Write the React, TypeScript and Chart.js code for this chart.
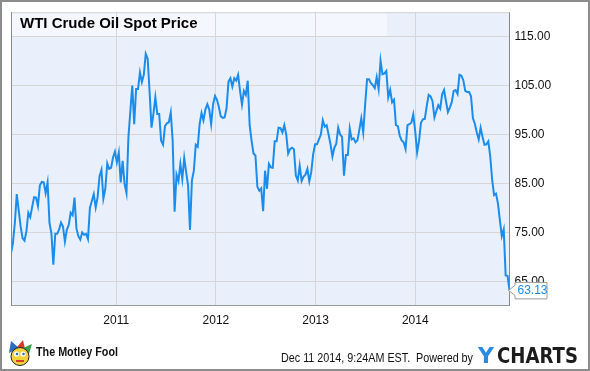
import React, { useEffect, useRef } from "react";
import { Chart, registerables } from "chart.js";

Chart.register(...registerables);

const TITLE = "WTI Crude Oil Spot Price";
const START_YEAR = 2009.945;
const END_YEAR = 2014.945;
const YEAR_TICKS = [2011, 2012, 2013, 2014];
const PRICE_TICKS = [65, 75, 85, 95, 105, 115];
const Y_MIN = 60;
const Y_MAX = 120;
const LAST_LABEL = "63.13";
const FOOTER_DATE = "Dec 11 2014, 9:24AM EST.  Powered by";
const BRAND = "The Motley Fool";

const prices2010 = [
  70.7, 72.8, 76.9, 82.8, 79.5, 76.2, 73.8, 73.3, 75.2, 79.0, 78.1, 80.2, 82.2, 82.1, 80.4, 84.6, 85.3, 85.2, 83.0, 85.2,
  76.9, 74.8, 68.4, 74.7, 74.7, 75.6, 77.0, 76.2, 73.1, 75.5, 76.5, 79.0, 78.5, 82.1, 75.8, 74.2, 73.5, 75.0, 74.5, 74.7,
  73.6, 80.0, 81.4, 82.8, 80.1, 82.2, 86.5, 87.8, 81.9, 83.9, 89.1, 88.0, 88.2, 90.3,
];
const prices2011 = [
  91.5, 89.3, 91.3, 85.2, 89.6, 84.9, 83.0, 94.4, 99.7, 105.0, 97.1, 104.3, 104.3, 107.7, 105.7, 107.2, 111.5, 110.5,
  103.8, 96.4, 99.2, 102.6, 99.2, 99.2, 93.7, 92.9, 96.7, 97.3, 97.5, 99.5, 93.7, 79.2, 86.8, 85.5, 89.0, 85.9, 90.2,
  87.3, 84.6, 75.5, 85.6, 87.6, 92.9, 92.5, 97.1, 99.4, 97.9, 100.1, 101.2, 100.1, 97.1, 101.2,
];
const prices2012 = [
  102.9, 102.1, 100.6, 98.7, 98.4, 98.5, 100.4, 105.8, 106.5, 104.8, 106.5, 106.0, 107.2, 103.9, 101.1, 103.9, 103.1,
  106.0, 96.9, 93.7, 91.1, 90.7, 84.3, 83.5, 84.0, 79.3, 87.6, 83.9, 89.0, 88.3, 88.2, 93.6, 93.6, 96.4, 96.3, 95.4, 96.9,
  95.0, 91.1, 92.0, 92.3, 92.0, 86.6, 85.6, 88.6, 85.5, 86.4, 86.8, 88.0, 85.4, 87.3,
];
const prices2013 = [
  91.0, 93.0, 93.0, 94.0, 95.0, 97.9, 96.6, 96.9, 95.0, 93.0, 90.5, 92.3, 93.1, 96.4, 95.0, 94.5, 86.6, 90.8, 90.8, 96.2,
  94.0, 94.2, 93.4, 93.8, 96.0, 98.3, 95.4, 101.1, 106.3, 106.3, 105.5, 105.1, 104.5, 106.7, 104.3, 110.1, 107.3, 107.5,
  108.0, 102.6, 104.1, 101.6, 102.1, 96.9, 96.7, 94.7, 93.8, 93.4, 92.0, 96.9, 97.1, 97.4,
];
const prices2014 = [
  99.1, 95.7, 91.3, 93.7, 97.4, 98.1, 98.2, 100.8, 103.1, 102.8, 101.8, 98.5, 99.8, 101.0, 100.3, 103.2, 104.1, 101.8,
  99.6, 100.5, 101.6, 103.9, 104.1, 103.3, 107.2, 107.0, 106.1, 103.9, 103.7, 103.7, 102.8, 98.3, 97.2, 95.4, 94.0, 96.4,
  94.5, 92.9, 93.0, 93.6, 90.5, 85.7, 82.6, 82.9, 80.9, 77.5, 74.2, 75.6, 66.2, 66.1, 63.13,
];

const prices = [...prices2010, ...prices2011, ...prices2012, ...prices2013, ...prices2014];

const W = 590;
const H = 371;
const PLOT_BG = "#eaf0fb";
const BAND_BG = "#f4f7fd";
const GRID = "#d6d6d6";
const LINE = "#1a8cec";
const FONT = "'Liberation Sans', Arial, sans-serif";

const decor = {
  id: "decor",
  beforeDraw(chart: any) {
    const { ctx, chartArea: a } = chart;
    ctx.save();
    ctx.fillStyle = "#ffffff";
    ctx.fillRect(0, 0, W, H);
    ctx.fillStyle = PLOT_BG;
    ctx.fillRect(a.left, a.top, a.right - a.left, a.bottom - a.top);
    const yBand = chart.scales.y.getPixelForValue(PRICE_TICKS[PRICE_TICKS.length - 1]);
    ctx.fillStyle = BAND_BG;
    ctx.fillRect(a.left, a.top, 387 - a.left, yBand - a.top);
    ctx.restore();
  },
  afterDraw(chart: any) {
    const { ctx, chartArea: a } = chart;
    ctx.save();
    // title
    ctx.fillStyle = "#000";
    ctx.font = `bold 15px ${FONT}`;
    ctx.textBaseline = "middle";
    ctx.textAlign = "left";
    ctx.fillText(TITLE, 20, 24);
    // plot borders
    ctx.lineWidth = 1;
    ctx.strokeStyle = "#d0d0d0";
    ctx.beginPath();
    ctx.moveTo(a.left, a.top + 0.5);
    ctx.lineTo(a.right, a.top + 0.5);
    ctx.stroke();
    ctx.strokeStyle = "#8a8a8a";
    ctx.beginPath();
    ctx.moveTo(a.left + 0.5, a.top);
    ctx.lineTo(a.left + 0.5, a.bottom);
    ctx.stroke();
    // last value label
    const meta = chart.getDatasetMeta(0);
    const last = meta.data[meta.data.length - 1];
    if (last) {
      const px = last.x;
      const py = last.y;
      const bx = px + 5;
      const bw = 32.5;
      const bh = 17;
      const by = py - bh / 2;
      ctx.fillStyle = "#fff";
      ctx.strokeStyle = "#9a9a9a";
      ctx.beginPath();
      ctx.moveTo(bx + 0.5, by + 0.5);
      ctx.lineTo(bx + bw, by + 0.5);
      ctx.lineTo(bx + bw, by + bh);
      ctx.lineTo(bx + 0.5, by + bh);
      ctx.lineTo(bx + 0.5, py + 5);
      ctx.lineTo(px - 1, py);
      ctx.lineTo(bx + 0.5, py - 5);
      ctx.closePath();
      ctx.fill();
      ctx.stroke();
      ctx.fillStyle = LINE;
      ctx.font = `12px ${FONT}`;
      ctx.textBaseline = "middle";
      ctx.fillText(LAST_LABEL, bx + 3, py + 0.5);
    }
    // Motley Fool icon
    const ix = 8, iy = 340;
    ctx.fillStyle = "#2b6cc4";
    ctx.beginPath();
    ctx.moveTo(ix + 1, iy + 13);
    ctx.lineTo(ix + 3, iy + 1);
    ctx.lineTo(ix + 11, iy + 8);
    ctx.closePath();
    ctx.fill();
    ctx.fillStyle = "#d93a2b";
    ctx.beginPath();
    ctx.moveTo(ix + 9, iy + 7);
    ctx.lineTo(ix + 15, iy + 0);
    ctx.lineTo(ix + 17, iy + 9);
    ctx.closePath();
    ctx.fill();
    ctx.fillStyle = "#3aa04a";
    ctx.beginPath();
    ctx.moveTo(ix + 15, iy + 8);
    ctx.lineTo(ix + 24, iy + 4);
    ctx.lineTo(ix + 21, iy + 14);
    ctx.closePath();
    ctx.fill();
    ctx.fillStyle = "#f4d23c";
    ctx.beginPath();
    ctx.ellipse(ix + 12, iy + 16.5, 9, 9, 0, 0, Math.PI * 2);
    ctx.fill();
    ctx.strokeStyle = "#222";
    ctx.lineWidth = 1;
    ctx.stroke();
    ctx.fillStyle = "#ffffff";
    ctx.beginPath();
    ctx.arc(ix + 8.5, iy + 14, 2.6, 0, Math.PI * 2);
    ctx.arc(ix + 15, iy + 14, 2.6, 0, Math.PI * 2);
    ctx.fill();
    ctx.fillStyle = "#2b6cc4";
    ctx.beginPath();
    ctx.arc(ix + 9, iy + 14, 1.3, 0, Math.PI * 2);
    ctx.arc(ix + 15.5, iy + 14, 1.3, 0, Math.PI * 2);
    ctx.fill();
    ctx.fillStyle = "#d93a2b";
    ctx.fillRect(ix + 8, iy + 20, 8, 2);
    // brand text
    ctx.fillStyle = "#111";
    ctx.font = `bold 13px 'Liberation Sans Narrow', ${FONT}`;
    ctx.textBaseline = "middle";
    ctx.fillText(BRAND, 36, 352, 82);
    // footer date
    ctx.fillStyle = "#111";
    ctx.font = `12px ${FONT}`;
    ctx.fillText(FOOTER_DATE, 281, 359, 192);
    // YCHARTS logo
    ctx.font = `bold 22px 'DejaVu Sans', ${FONT}`;
    ctx.fillStyle = "#2a8be0";
    ctx.fillText("Y", 478, 357, 20);
    ctx.fillStyle = "#1c1c1c";
    ctx.fillText("CHARTS", 497, 357, 81);
    // frame
    ctx.strokeStyle = "#8c8c8c";
    ctx.lineWidth = 2;
    ctx.strokeRect(1, 1, W - 2, H - 2);
    ctx.restore();
  },
};

export default function App() {
  const ref = useRef<HTMLCanvasElement>(null);
  useEffect(() => {
    document.body.style.margin = "0";
    const n = prices.length;
    const points = prices.map((v, i) => ({
      x: START_YEAR + ((END_YEAR - START_YEAR) * i) / (n - 1),
      y: v,
    }));
    const chart = new Chart(ref.current as HTMLCanvasElement, {
      type: "line",
      data: {
        datasets: [
          {
            data: points,
            borderColor: LINE,
            borderWidth: 2,
            pointRadius: 0,
            tension: 0,
            fill: false,
          },
        ],
      },
      options: {
        animation: false,
        responsive: false,
        maintainAspectRatio: false,
        layout: { padding: { left: 11, top: 11, right: 0, bottom: 0 } },
        plugins: { legend: { display: false }, tooltip: { enabled: false }, title: { display: false } },
        scales: {
          x: {
            type: "linear",
            min: START_YEAR,
            max: END_YEAR,
            afterBuildTicks: (s: any) => {
              s.ticks = YEAR_TICKS.map((v) => ({ value: v }));
            },
            afterFit: (s: any) => {
              s.height = 65.3;
            },
            grid: { color: GRID, drawTicks: false },
            border: { display: true, color: "#9a9a9a" },
            ticks: {
              autoSkip: false,
              maxRotation: 0,
              padding: 8,
              color: "#111",
              font: { family: FONT, size: 12 },
              callback: (v: any) => String(v),
            },
          },
          y: {
            position: "right",
            min: Y_MIN,
            max: Y_MAX,
            afterBuildTicks: (s: any) => {
              s.ticks = PRICE_TICKS.map((v) => ({ value: v }));
            },
            afterFit: (s: any) => {
              s.width = 80.5;
            },
            grid: { color: GRID, drawTicks: false },
            border: { display: true, color: "#8a8a8a" },
            ticks: {
              autoSkip: false,
              padding: 5,
              color: "#111",
              font: { family: FONT, size: 12 },
              callback: (v: any) => Number(v).toFixed(2),
            },
          },
        },
      },
      plugins: [decor],
    });
    return () => chart.destroy();
  }, []);
  return (
    <div style={{ position: "absolute", left: 0, top: 0, width: W, height: H }}>
      <canvas ref={ref} width={W} height={H} style={{ width: W, height: H, display: "block" }} />
    </div>
  );
}
